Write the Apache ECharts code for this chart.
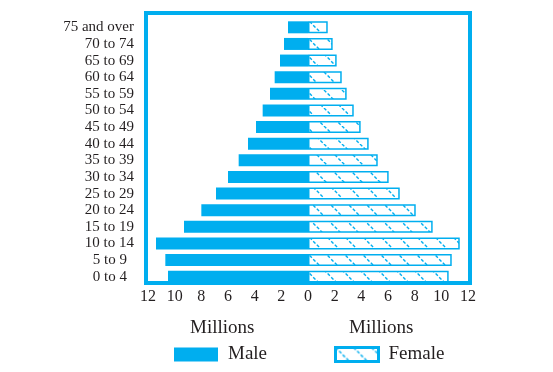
<!DOCTYPE html>
<html><head><meta charset="utf-8">
<script src="https://cdn.jsdelivr.net/npm/echarts@6/dist/echarts.min.js"></script>
<style>html,body{margin:0;padding:0;background:#fff}#c{width:553px;height:372px}</style>
</head><body><div id="c"></div>
<script>
const categories = ['0 to 4','5 to 9','10 to 14','15 to 19','20 to 24','25 to 29','30 to 34','35 to 39','40 to 44','45 to 49','50 to 54','55 to 59','60 to 64','65 to 69','70 to 74','75 and over'];
const maleValues = [10.5,10.7,11.4,9.3,8.0,6.9,6.0,5.2,4.5,3.9,3.4,2.85,2.5,2.1,1.8,1.5];
const femaleValues = [10.55,10.78,11.38,9.35,8.08,6.88,6.05,5.23,4.55,3.95,3.43,2.9,2.53,2.15,1.85,1.48];
const xMin = -12, xMax = 12, xStep = 2;
const axisTitles = ['Millions','Millions'];

const BLUE = '#00aeef';
const INK = '#231f20';
const FONT = '"Liberation Serif", "DejaVu Serif", serif';

function makeHatch(){
  const c = document.createElement('canvas'); c.width = 18; c.height = 18;
  const g = c.getContext('2d');
  g.fillStyle = '#fff'; g.fillRect(0,0,18,18);
  g.strokeStyle = BLUE; g.lineWidth = 1.4; g.setLineDash([3.2,1.9]);
  for (const o of [-18,0,18]) { g.beginPath(); g.moveTo(o,0); g.lineTo(o+18,18); g.stroke(); }
  return c;
}
const hatch = {image: makeHatch(), repeat: 'repeat'};

const chart = echarts.init(document.getElementById('c'), null, {renderer:'canvas'});
chart.setOption({
  animation: false,
  backgroundColor: '#fff',
  grid: {left: 148, right: 85, top: 19, height: 266, containLabel: false},
  xAxis: {
    type: 'value', min: xMin, max: xMax, interval: xStep,
    axisLine: {show:false}, axisTick: {show:false}, splitLine: {show:false},
    axisLabel: {formatter: v => String(Math.abs(v)), color: INK, fontFamily: FONT, fontSize: 16, margin: 4}
  },
  yAxis: {
    type: 'category', data: categories,
    axisLine: {show:false, onZero:false}, axisTick: {show:false},
    axisLabel: {
      interval: 0,
      color: INK, fontFamily: FONT, fontSize: 15, margin: 14,
      formatter: v => (v === '0 to 4' || v === '5 to 9') ? '{s|' + v + '}' : v,
      rich: {s: {color: INK, fontFamily: FONT, fontSize: 15, padding: [0,7,0,0]}}
    }
  },
  legend: [
    {data: ['Male'], left: 174, top: 345, padding: 0, itemWidth: 44, itemHeight: 14, icon: 'rect',
     textStyle: {color: INK, fontFamily: FONT, fontSize: 19, padding: [0,0,0,5]}},
    {data: [{name:'Female', itemStyle:{borderWidth:3, borderColor: BLUE}}], left: 334, top: 345, padding: 0, itemWidth: 43, itemHeight: 14, icon: 'rect',
     textStyle: {color: INK, fontFamily: FONT, fontSize: 19, padding: [0,0,0,5]}}
  ],
  graphic: [
    {type: 'rect', z: 100, silent: true, shape: {x: 146, y: 13, width: 324, height: 270},
     style: {fill: 'none', stroke: BLUE, lineWidth: 4}},
    {type: 'text', left: 190, top: 319, style: {text: axisTitles[0], fill: INK, font: '19px ' + FONT}},
    {type: 'text', left: 349, top: 319, style: {text: axisTitles[1], fill: INK, font: '19px ' + FONT}}
  ],
  series: [
    {name: 'Male', type: 'bar', stack: 'pop', barWidth: 12, data: maleValues.map(v => -v),
     itemStyle: {color: BLUE}},
    {name: 'Female', type: 'bar', stack: 'pop', barWidth: 12, data: femaleValues,
     itemStyle: {color: hatch, borderColor: BLUE, borderWidth: 1.5}}
  ]
});
</script></body></html>
